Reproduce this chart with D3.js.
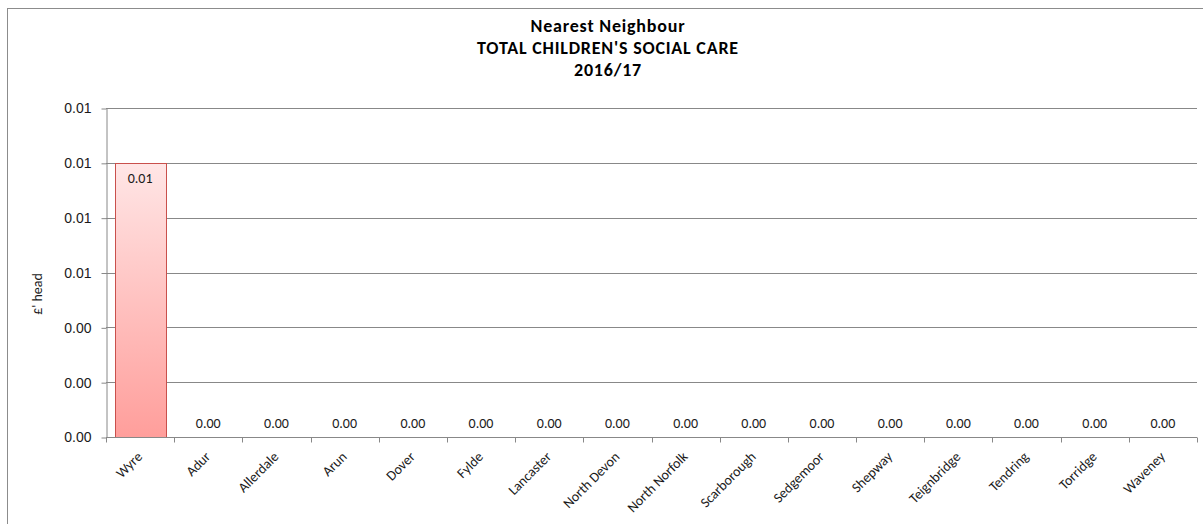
<!DOCTYPE html>
<html><head><meta charset="utf-8">
<script src="https://cdn.jsdelivr.net/npm/d3@7"></script>
<style>body{margin:0;background:#fff}svg{display:block;font-family:Carlito,Lato,"Liberation Sans",sans-serif}</style>
</head><body><svg id="c" width="1203" height="524"></svg>
<script>
const categories = ["Wyre","Adur","Allerdale","Arun","Dover","Fylde","Lancaster","North Devon","North Norfolk","Scarborough","Sedgemoor","Shepway","Teignbridge","Tendring","Torridge","Waveney"];
const values = [0.01,0,0,0,0,0,0,0,0,0,0,0,0,0,0,0];
const yTicks = [0,0.002,0.004,0.006,0.008,0.010,0.012];
const titleLines = ["Nearest Neighbour","TOTAL CHILDREN'S SOCIAL CARE","2016/17"];
const yLabel = "£' head";

const svg = d3.select("#c");
const m = {l:106, r:1197, t:108, b:437};
const axisColor = "#888";
const textColor = "#1a1a1a";
const fmt = d3.format(".2f");

// outer border
svg.append("rect").attr("x",7.5).attr("y",8.5).attr("width",1210).attr("height",530)
  .attr("fill","none").attr("stroke","#8c8c8c").attr("stroke-width",1);

const x = d3.scaleBand().domain(categories).range([m.l,m.r]).paddingInner(0.25).paddingOuter(0.125);
const xb = d3.scaleBand().domain(categories).range([m.l,m.r]);
const y = d3.scaleLinear().domain([0,0.012]).range([m.b,m.t]);

const defs = svg.append("defs");
const g = defs.append("linearGradient").attr("id","bg").attr("x1",0).attr("y1",0).attr("x2",0).attr("y2",1);
g.append("stop").attr("offset","0%").attr("stop-color","#ffe6e6");
g.append("stop").attr("offset","100%").attr("stop-color","#ff9e9b");

// gridlines
svg.append("g").selectAll("line").data(yTicks.slice(1)).join("line")
  .attr("x1",m.l).attr("x2",m.r).attr("y1",d=>Math.round(y(d))+0.5).attr("y2",d=>Math.round(y(d))+0.5)
  .attr("stroke",axisColor).attr("stroke-width",1);

// y axis
const ya = svg.append("g").attr("transform",`translate(${m.l+0.5},0.5)`)
  .call(d3.axisLeft(y).tickValues(yTicks).tickFormat(fmt).tickSize(5).tickSizeOuter(0));
ya.select(".domain").attr("stroke",axisColor);
ya.selectAll(".tick line").attr("stroke",axisColor);
ya.selectAll(".tick text").attr("font-family",null).attr("font-size","14px").attr("fill",textColor).attr("x",-15);

// bars
svg.append("g").selectAll("rect").data(values).join("rect")
  .attr("x",(d,i)=>Math.round(x(categories[i]))+0.5)
  .attr("width",Math.round(x.bandwidth()))
  .attr("y",d=>Math.round(y(d))+0.5)
  .attr("height",d=>Math.max(0,y(0)-Math.round(y(d))))
  .attr("fill","url(#bg)").attr("stroke",d=>d>0?"#c9504c":"none").attr("stroke-width",1);

// x axis
const xa = svg.append("g").attr("transform",`translate(0,${Math.round(y(0))+0.5})`);
xa.append("line").attr("x1",m.l).attr("x2",m.r).attr("stroke",axisColor);
const bounds = categories.map(c=>xb(c)).concat([m.r]);
xa.selectAll("line.t").data(bounds).join("line").attr("class","t")
  .attr("x1",d=>Math.round(d)+0.5).attr("x2",d=>Math.round(d)+0.5).attr("y1",0).attr("y2",5).attr("stroke",axisColor);
xa.selectAll("text").data(categories).join("text")
  .attr("transform",d=>`translate(${xb(d)+xb.bandwidth()/2+3},${20}) rotate(-45)`)
  .attr("text-anchor","end").attr("font-size","14px").attr("fill",textColor).text(d=>d);

// value labels
svg.append("g").selectAll("text").data(values).join("text")
  .attr("x",(d,i)=>xb(categories[i])+xb.bandwidth()/2)
  .attr("y",d=>d>0?y(d)+20:y(d)-9)
  .attr("text-anchor","middle").attr("font-size","14px").attr("fill",textColor)
  .text(d=>fmt(d));

// title
svg.append("g").selectAll("text").data(titleLines).join("text")
  .attr("x",608).attr("y",(d,i)=>32+i*22).attr("text-anchor","middle")
  .attr("font-size","18px").attr("letter-spacing","0.8px").attr("font-weight","bold").attr("fill","#000").text(d=>d);

// y label
svg.append("text").attr("transform","translate(42,294) rotate(-90)").attr("text-anchor","middle")
  .attr("font-size","14px").attr("fill",textColor).text(yLabel);
</script></body></html>
